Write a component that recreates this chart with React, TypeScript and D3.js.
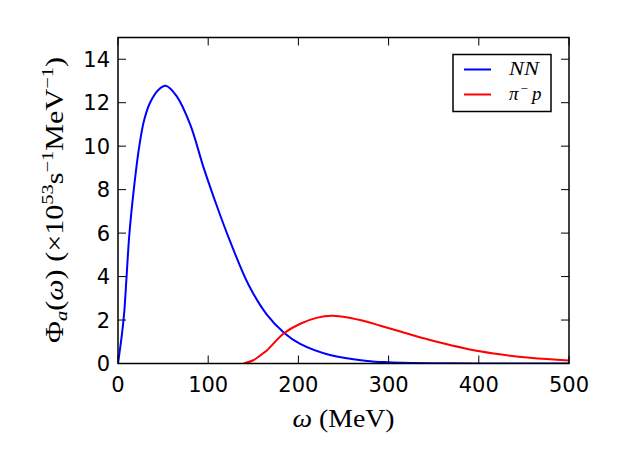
import { useEffect, useRef } from 'react';
import * as d3 from 'd3';

// NN bremsstrahlung spectrum
const nnOmega = [0, 2, 4.5, 7, 9.5, 12.5, 17.5, 23.6, 29, 35.5, 45, 53, 65, 80, 95, 110, 124, 145, 165, 184, 202, 235, 276, 300, 350, 400, 500];
const nnPhi = [0, 0.6, 1.4, 2.4, 4, 5.9, 8, 10, 11.2, 12, 12.6, 12.78, 12.3, 11.0, 9.0, 7.2, 5.65, 3.6, 2.25, 1.42, 0.9, 0.39, 0.12, 0.06, 0.015, 0.004, 0];

// pi^- p spectrum
const piOmega = [139, 150, 161, 165, 184, 202, 220, 237, 255, 276, 290, 313, 346, 401, 457, 500];
const piPhi = [0, 0.15, 0.47, 0.6, 1.39, 1.83, 2.1, 2.2, 2.12, 1.92, 1.75, 1.47, 1.08, 0.56, 0.26, 0.14];

const xTicks = [0, 100, 200, 300, 400, 500];
const yTicks = [0, 2, 4, 6, 8, 10, 12, 14];

export default function App() {
  const svgRef = useRef<SVGSVGElement>(null);

  useEffect(() => {
    if (!svgRef.current) return;
    const width = 629;
    const height = 472;
    const svg = d3.select(svgRef.current);
    svg.selectAll('*').remove();
    svg.attr('width', width).attr('height', height);

    const left = 118, right = 569, top = 37.5, bottom = 363.5;
    const x = d3.scaleLinear().domain([0, 500]).range([left, right]);
    const y = d3.scaleLinear().domain([0, 15]).range([bottom, top]);

    svg.append('rect').attr('width', width).attr('height', height).attr('fill', '#fff');

    const line = d3.line<[number, number]>()
      .x(d => x(d[0]))
      .y(d => y(Math.max(0, d[1])))
      .curve(d3.curveCatmullRom.alpha(0.5));

    const clip = svg.append('clipPath').attr('id', 'plot-clip');
    clip.append('rect').attr('x', left).attr('y', top).attr('width', right - left).attr('height', bottom - top);

    const plot = svg.append('g').attr('clip-path', 'url(#plot-clip)');
    plot.append('path')
      .attr('d', line(nnOmega.map((w, i) => [w, nnPhi[i]] as [number, number])))
      .attr('fill', 'none')
      .attr('stroke', '#0000ff')
      .attr('stroke-width', 2);
    plot.append('path')
      .attr('d', line(piOmega.map((w, i) => [w, piPhi[i]] as [number, number])))
      .attr('fill', 'none')
      .attr('stroke', '#ff0000')
      .attr('stroke-width', 2);

    // ticks, inward on all four sides
    const tickLen = 8;
    const ticks = svg.append('g').attr('stroke', '#000').attr('stroke-width', 1);
    xTicks.forEach(t => {
      ticks.append('line').attr('x1', x(t)).attr('x2', x(t)).attr('y1', bottom).attr('y2', bottom - tickLen);
      ticks.append('line').attr('x1', x(t)).attr('x2', x(t)).attr('y1', top).attr('y2', top + tickLen);
    });
    yTicks.forEach(t => {
      ticks.append('line').attr('x1', left).attr('x2', left + tickLen).attr('y1', y(t)).attr('y2', y(t));
      ticks.append('line').attr('x1', right).attr('x2', right - tickLen).attr('y1', y(t)).attr('y2', y(t));
    });

    svg.append('rect')
      .attr('x', left).attr('y', top)
      .attr('width', right - left).attr('height', bottom - top)
      .attr('fill', 'none').attr('stroke', '#000').attr('stroke-width', 1.5);

    const tickFont = '"DejaVu Sans", sans-serif';
    xTicks.forEach(t => {
      svg.append('text')
        .attr('x', x(t)).attr('y', 391.5)
        .attr('text-anchor', 'middle')
        .attr('font-family', tickFont).attr('font-size', 21)
        .text(String(t));
    });
    yTicks.forEach(t => {
      svg.append('text')
        .attr('x', 110).attr('y', y(t) + 7.5)
        .attr('text-anchor', 'end')
        .attr('font-family', tickFont).attr('font-size', 21)
        .text(String(t));
    });

    const serif = '"Liberation Serif", serif';

    // x label
    const xl = svg.append('text')
      .attr('x', (left + right) / 2).attr('y', 427)
      .attr('text-anchor', 'middle')
      .attr('font-family', serif).attr('font-size', 25)
      .attr('textLength', 102).attr('lengthAdjust', 'spacingAndGlyphs');
    xl.append('tspan').attr('font-style', 'italic').text('ω');
    xl.append('tspan').text(' (MeV)');

    // y label
    const yl = svg.append('text')
      .attr('transform', `translate(63, ${(343 + 57) / 2}) rotate(-90)`)
      .attr('text-anchor', 'middle')
      .attr('font-family', serif).attr('font-size', 25)
      .attr('textLength', 286).attr('lengthAdjust', 'spacingAndGlyphs');
    yl.append('tspan').text('Φ');
    yl.append('tspan').attr('font-style', 'italic').attr('font-size', 17).attr('dy', 4).text('a');
    yl.append('tspan').attr('dy', -4).text('(');
    yl.append('tspan').attr('font-style', 'italic').text('ω');
    yl.append('tspan').text(')  (×10');
    yl.append('tspan').attr('font-size', 17).attr('dy', -10).text('53');
    yl.append('tspan').attr('dy', 10).text('s');
    yl.append('tspan').attr('font-size', 17).attr('dy', -10).text('−1');
    yl.append('tspan').attr('dy', 10).text('MeV');
    yl.append('tspan').attr('font-size', 17).attr('dy', -10).text('−1');
    yl.append('tspan').attr('dy', 10).text(')');

    // legend
    const lg = svg.append('g');
    lg.append('rect')
      .attr('x', 453).attr('y', 54.5).attr('width', 98).attr('height', 57)
      .attr('fill', '#fff').attr('stroke', '#000').attr('stroke-width', 1.5);
    const items = [
      { color: '#0000ff', yy: 69.5 },
      { color: '#ff0000', yy: 94.5 },
    ];
    items.forEach(it => {
      lg.append('line')
        .attr('x1', 464).attr('x2', 491).attr('y1', it.yy).attr('y2', it.yy)
        .attr('stroke', it.color).attr('stroke-width', 2);
    });
    const t1 = lg.append('text').attr('x', 509).attr('y', 75)
      .attr('font-family', serif).attr('font-size', 19).attr('font-style', 'italic')
      .attr('textLength', 30).attr('lengthAdjust', 'spacingAndGlyphs');
    t1.text('NN');
    const t2 = lg.append('text').attr('x', 509).attr('y', 100)
      .attr('font-family', serif).attr('font-size', 19).attr('font-style', 'italic');
    t2.append('tspan').text('π');
    t2.append('tspan').attr('font-style', 'normal').attr('font-size', 13).attr('dx', 2).attr('dy', -7).text('−');
    t2.append('tspan').attr('dx', 4).attr('dy', 7).text('p');
  }, []);

  return <svg ref={svgRef} style={{ position: 'absolute', left: 0, top: 0, display: 'block' }} />;
}
